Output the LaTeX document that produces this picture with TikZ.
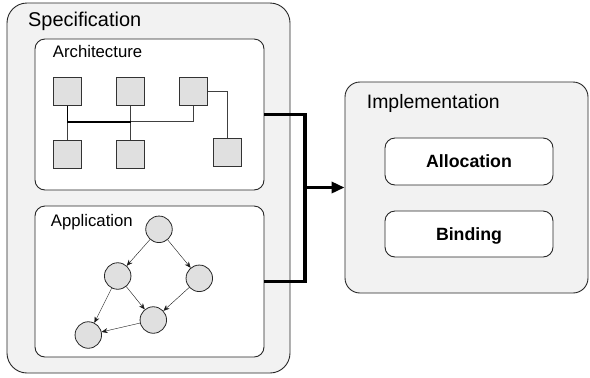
\documentclass[tikz,border=0pt]{standalone}
\usepackage{fontspec}
\setmainfont{Liberation Sans}
\usetikzlibrary{arrows.meta}

\begin{document}
\begin{tikzpicture}[x=1bp,y=-1bp,
    outerbox/.style={draw=black!85, line width=0.9bp, fill=black!5, rounded corners=20bp, inner sep=0pt},
    innerbox/.style={draw=black!85, line width=0.9bp, fill=white, rounded corners=10bp, inner sep=0pt},
    resource/.style={draw=black!80, line width=0.8bp, fill=black!12, minimum size=28bp, inner sep=0pt},
    actor/.style={circle, draw=black!85, line width=0.8bp, fill=black!12, minimum size=26.5bp, inner sep=0pt},
    bigtitle/.style={anchor=base west, inner sep=0pt, font=\fontsize{20}{24}\selectfont},
    smalltitle/.style={anchor=base west, inner sep=0pt, font=\fontsize{16.8}{20}\selectfont}]
  \useasboundingbox (0,0) rectangle (590,377);

  \node[outerbox, minimum width=283bp, minimum height=370bp] (spec) at (148.5,188) {};
  \node[innerbox, minimum width=229bp, minimum height=151bp] (arch) at (149.5,114.5) {};
  \node[innerbox, minimum width=229bp, minimum height=151bp] (app) at (149.5,281.5) {};
  \node[outerbox, rounded corners=15bp, minimum width=243bp, minimum height=211bp] (impl) at (466.5,187.5) {};
  \node[innerbox, minimum width=168bp, minimum height=47bp, text depth=0pt,
        font=\fontsize{17.8}{20}\selectfont\bfseries] (alloc) at (469,161.5) {Allocation};
  \node[innerbox, minimum width=168bp, minimum height=46bp, text depth=0pt,
        font=\fontsize{17.8}{20}\selectfont\bfseries] (bind) at (469,234) {Binding};

  \node[bigtitle] (specname) at (28,26.7) {Specification};
  \node[smalltitle] (archname) at (52.7,57.7) {Architecture};
  \node[smalltitle] (appname) at (50.7,226.7) {Application};
  \node[bigtitle, font=\fontsize{19.5}{24}\selectfont] (implname) at (366.7,108.3) {Implementation};

  % architecture
  \node[resource] (r1) at (67.5,91.3) {};
  \node[resource] (r2) at (130.5,91.3) {};
  \node[resource] (r3) at (193.3,91.3) {};
  \node[resource] (r4) at (67.5,154) {};
  \node[resource] (r5) at (130.5,154) {};
  \node[resource] (r6) at (227,152) {};
  \coordinate (bus) at (0,121.7);
  \draw[black!75, line width=0.7bp] (r1.south |- bus) -- (r4.north);
  \draw[black!75, line width=0.7bp] (r2.south) -- (r5.north);
  \draw[black!75, line width=0.7bp] (r2.south |- bus) -- (r3.south |- bus) -- (r3.south);
  \draw[black!75, line width=0.7bp] (r3.east) -| (r6.north);
  \draw[line width=1.6bp] (r1.south) -- (r1.south |- bus) -- (r2.south |- bus);

  % application
  \node[actor] (a1) at (159,229.3) {};
  \node[actor] (a2) at (117.7,276) {};
  \node[actor] (a3) at (199.3,278.3) {};
  \node[actor] (a4) at (153.3,320) {};
  \node[actor] (a5) at (88.3,335) {};
  \draw[-{Stealth[length=6bp,width=5bp]}, black!90] (a1) -- (a2);
  \draw[-{Stealth[length=6bp,width=5bp]}, black!90] (a1) -- (a3);
  \draw[-{Stealth[length=6bp,width=5bp]}, black!90] (a2) -- (a5);
  \draw[-{Stealth[length=6bp,width=5bp]}, black!90] (a2) -- (a4);
  \draw[-{Stealth[length=6bp,width=5bp]}, black!90] (a3) -- (a4);
  \draw[-{Stealth[length=6bp,width=5bp]}, black!90] (a4) -- (a5);

  % mapping
  \coordinate (join) at (305,187.5);
  \draw[line width=3.3bp] (arch.east) -| (join);
  \draw[line width=3.3bp] (app.east) -| (join);
  \draw[line width=3.3bp, -{Triangle[length=13bp,width=11bp]}] (join) -- (impl.west);
\end{tikzpicture}
\end{document}
